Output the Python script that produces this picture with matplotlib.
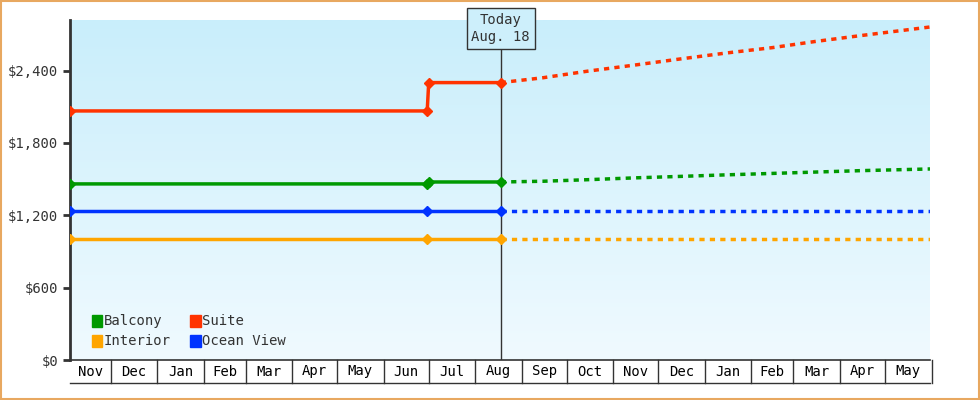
import numpy as np
import matplotlib.pyplot as plt
import matplotlib.dates as mdates
import matplotlib.transforms as mtrans
from matplotlib.patches import Rectangle
from datetime import date

# history (step changes) and forecast points
hist_dates = [date(2024, 11, 4), date(2025, 6, 30), date(2025, 7, 1), date(2025, 8, 18)]
suite_hist = [2065, 2065, 2300, 2300]
balcony_hist = [1460, 1460, 1476, 1476]
ocean_hist = [1235, 1235, 1235, 1235]
interior_hist = [1000, 1000, 1000, 1000]

fc_dates = [date(2025, 8, 18), date(2025, 9, 15), date(2025, 10, 15), date(2025, 11, 15),
            date(2025, 12, 15), date(2026, 1, 15), date(2026, 2, 15), date(2026, 3, 15),
            date(2026, 4, 15), date(2026, 5, 31)]
suite_fc = [2300, 2340, 2395, 2445, 2495, 2545, 2590, 2640, 2690, 2761]
balcony_fc = [1476, 1482, 1495, 1510, 1522, 1535, 1547, 1558, 1570, 1584]
ocean_fc = [1235] * 10
interior_fc = [1000] * 10

month_starts = [date(2024, 11, 4)] + [date(2024 + (m // 12), m % 12 + 1, 1) for m in range(11, 30)] + [date(2026, 5, 31)]
month_labels = ['Nov', 'Dec', 'Jan', 'Feb', 'Mar', 'Apr', 'May', 'Jun', 'Jul', 'Aug',
                'Sep', 'Oct', 'Nov', 'Dec', 'Jan', 'Feb', 'Mar', 'Apr', 'May']

colors = {'Balcony': '#009900', 'Suite': '#ff3300', 'Interior': '#ffa500', 'Ocean View': '#0033ff'}

plt.rcParams['font.family'] = 'DejaVu Sans Mono'
fig = plt.figure(figsize=(9.8, 4.0), dpi=100)
ax = fig.add_axes([70/980, 40/400, 860/980, 340/400])

# frame border
fig.patches.append(Rectangle((0.001, 0.002), 0.998, 0.995, transform=fig.transFigure,
                             fill=False, edgecolor='#e8a860', linewidth=1.5))

x0, x1 = mdates.date2num(month_starts[0]), mdates.date2num(month_starts[-1])
ymax = 2819
grad = np.linspace(0, 1, 256).reshape(-1, 1)
from matplotlib.colors import LinearSegmentedColormap
cmap = LinearSegmentedColormap.from_list('bg', ['#f0faff', '#c9eefb'])
ax.imshow(grad, extent=[x0, x1, 0, ymax], origin='lower', aspect='auto', cmap=cmap, zorder=0)

series = [('Suite', suite_hist, suite_fc), ('Balcony', balcony_hist, balcony_fc),
          ('Ocean View', ocean_hist, ocean_fc), ('Interior', interior_hist, interior_fc)]
for name, h, f in series:
    c = colors[name]
    ax.plot(hist_dates, h, color=c, lw=2.5, zorder=3)
    ax.plot([hist_dates[0], hist_dates[1], hist_dates[3]], [h[0], h[1], h[3]], 'D', color=c, ms=5, zorder=4)
    if h[1] != h[2]:
        ax.plot(hist_dates[2], h[2], 'D', color=c, ms=5, zorder=4)
    ax.plot(fc_dates, f, color=c, lw=2.5, ls=(0, (1.5, 1.5)), zorder=3)

today = mdates.date2num(date(2025, 8, 18))
ax.axvline(today, color='#333333', lw=1, zorder=2)
ax.annotate('Today\nAug. 18', (today, ymax), xytext=(0, -6), textcoords='offset points',
            ha='center', va='center', fontsize=10, color='#333333', linespacing=1.3,
            bbox=dict(boxstyle='square,pad=0.35', fc='#cdeffb', ec='#333333', lw=1),
            annotation_clip=False, zorder=6)

ax.set_xlim(x0, x1)
ax.set_ylim(0, ymax)
ax.set_yticks([0, 600, 1200, 1800, 2400])
ax.set_yticklabels(['$0', '$600', '$1,200', '$1,800', '$2,400'], color='#333333', fontsize=10)
ax.tick_params(axis='y', length=5, width=2, color='#333333')
ax.set_xticks([])
for s in ['top', 'right']:
    ax.spines[s].set_visible(False)
ax.spines['left'].set_linewidth(2)
ax.spines['left'].set_color('#333333')
ax.spines['bottom'].set_linewidth(1.2)
ax.spines['bottom'].set_color('#333333')

# month cells below the axis
tr = mtrans.blended_transform_factory(ax.transData, ax.transAxes)
cell_h = 23 / 340
for i, lab in enumerate(month_labels):
    a, b = mdates.date2num(month_starts[i]), mdates.date2num(month_starts[i + 1])
    ax.text((a + b) / 2, -cell_h / 2, lab, transform=tr, ha='center', va='center', fontsize=10)
    ax.plot([b, b], [0, -cell_h], transform=tr, color='#333333', lw=1, clip_on=False)
ax.plot([x0, x1], [-cell_h, -cell_h], transform=tr, color='#333333', lw=1, clip_on=False)

# legend
for (lx, ly, name) in [(0.025, 0.115, 'Balcony'), (0.14, 0.115, 'Suite'),
                       (0.025, 0.057, 'Interior'), (0.14, 0.057, 'Ocean View')]:
    ax.add_patch(Rectangle((lx, ly - 0.018), 0.012, 0.036, transform=ax.transAxes,
                           color=colors[name], zorder=5))
    ax.text(lx + 0.014, ly, name, transform=ax.transAxes, va='center', fontsize=10,
            color='#333333', zorder=5)

fig.savefig('out.png', dpi=100)
